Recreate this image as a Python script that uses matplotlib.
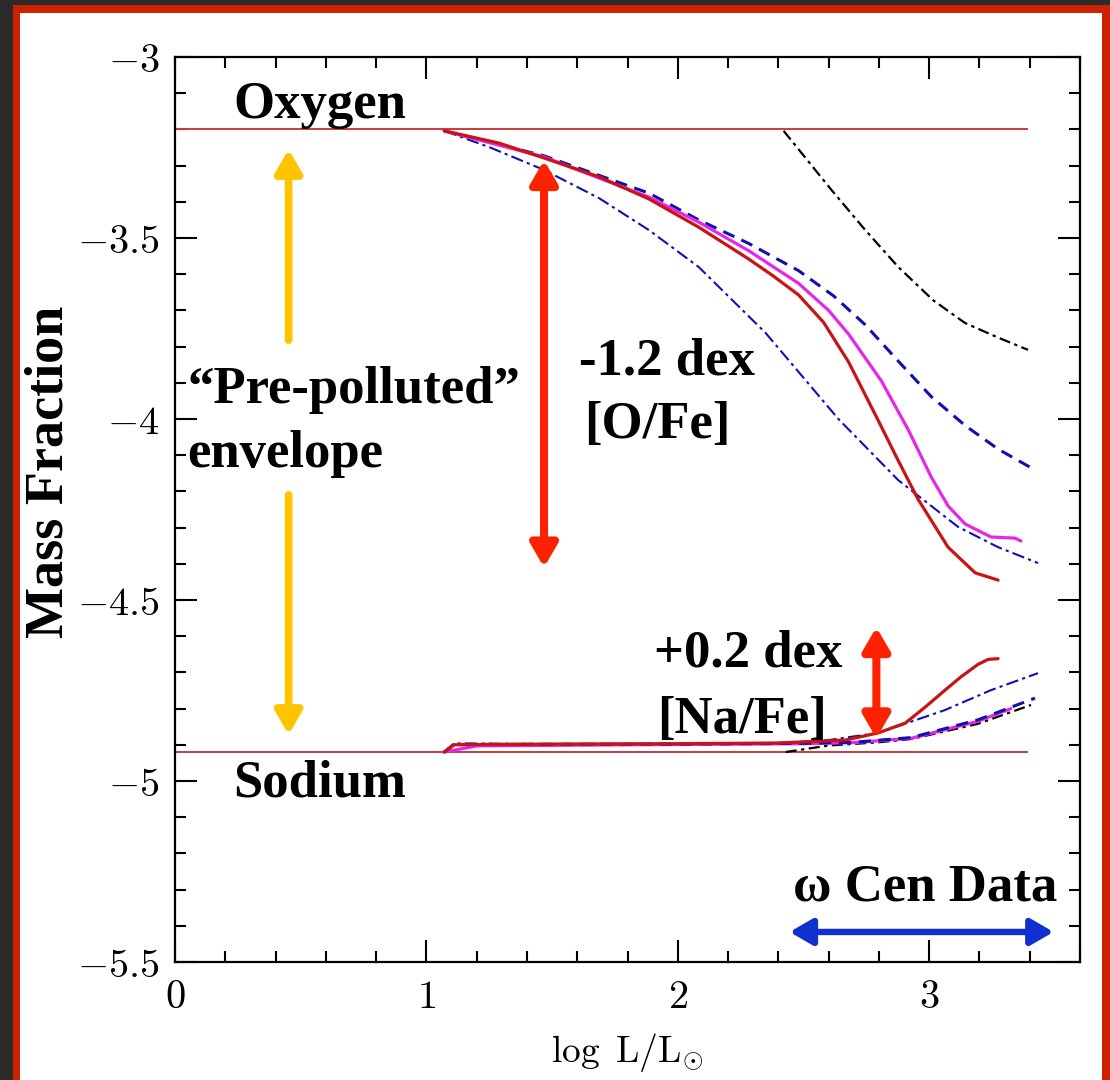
import matplotlib
matplotlib.use("Agg")
import matplotlib.pyplot as plt
from matplotlib.patches import Rectangle
from matplotlib.ticker import MultipleLocator, FuncFormatter

plt.rcParams['mathtext.fontset'] = 'cm'

# initial (pre-polluted) abundances
init_x = [0.0, 3.39]
oxygen_init = [-3.2, -3.2]
sodium_init = [-4.92, -4.92]

# oxygen tracks
o_red_x = [1.071, 1.290, 1.468, 1.687, 1.885, 2.083, 2.282, 2.380, 2.480, 2.580, 2.679, 2.798, 2.877, 2.956, 3.075, 3.183, 3.274]
o_red_y = [-3.204, -3.238, -3.279, -3.331, -3.392, -3.470, -3.558, -3.605, -3.657, -3.733, -3.842, -4.005, -4.115, -4.222, -4.354, -4.425, -4.445]
o_mag_x = [1.071, 1.468, 1.885, 2.083, 2.282, 2.480, 2.600, 2.679, 2.810, 2.917, 3.008, 3.075, 3.143, 3.246, 3.341, 3.365]
o_mag_y = [-3.204, -3.276, -3.387, -3.456, -3.535, -3.625, -3.700, -3.765, -3.895, -4.030, -4.160, -4.240, -4.290, -4.326, -4.329, -4.337]
o_bdash_x = [1.071, 1.468, 1.885, 2.083, 2.282, 2.480, 2.620, 2.746, 2.877, 3.008, 3.143, 3.274, 3.421]
o_bdash_y = [-3.204, -3.273, -3.376, -3.450, -3.515, -3.590, -3.660, -3.740, -3.840, -3.938, -4.018, -4.083, -4.141]
o_bdd_x = [1.071, 1.250, 1.468, 1.687, 1.885, 2.083, 2.349, 2.639, 2.877, 3.115, 3.274, 3.433]
o_bdd_y = [-3.204, -3.249, -3.312, -3.390, -3.478, -3.580, -3.762, -4.000, -4.169, -4.298, -4.354, -4.398]
o_blk_x = [2.421, 2.611, 2.742, 2.877, 3.016, 3.143, 3.274, 3.393]
o_blk_y = [-3.204, -3.367, -3.475, -3.580, -3.672, -3.735, -3.775, -3.809]

# sodium tracks
na_red_x = [1.071, 1.110, 1.500, 2.000, 2.401, 2.667, 2.798, 2.905, 2.984, 3.063, 3.127, 3.194, 3.235, 3.274]
na_red_y = [-4.920, -4.900, -4.898, -4.897, -4.895, -4.887, -4.867, -4.840, -4.796, -4.749, -4.712, -4.678, -4.664, -4.662]
na_bdd_x = [1.071, 1.110, 1.500, 2.000, 2.401, 2.600, 2.798, 3.063, 3.246, 3.433]
na_bdd_y = [-4.920, -4.896, -4.898, -4.897, -4.895, -4.887, -4.867, -4.804, -4.749, -4.702]
na_bdash_x = [1.071, 1.110, 2.000, 2.500, 2.700, 2.929, 3.194, 3.421]
na_bdash_y = [-4.920, -4.899, -4.898, -4.896, -4.893, -4.880, -4.831, -4.771]
na_mag_x = [1.071, 1.200, 2.000, 2.500, 2.700, 2.929, 3.194, 3.325]
na_mag_y = [-4.920, -4.903, -4.899, -4.897, -4.894, -4.882, -4.835, -4.800]
na_blk_x = [2.429, 2.600, 2.800, 2.929, 3.194, 3.405]
na_blk_y = [-4.920, -4.902, -4.893, -4.884, -4.842, -4.790]

W, H = 1110, 1080
fig = plt.figure(figsize=(W / 100, H / 100), dpi=100, facecolor='#2b2b2b')
# red frame with white card, behind the axes
fig.patches.append(Rectangle((13 / W, 0), (W - 13) / W, (H - 5) / H, zorder=-10,
                             transform=fig.transFigure, facecolor='#cc2200', edgecolor='none'))
fig.patches.append(Rectangle((20 / W, 0), (1102 - 20) / W, (H - 13) / H, zorder=-9,
                             transform=fig.transFigure, facecolor='white', edgecolor='none'))

ax = fig.add_axes([175 / W, 1 - 962 / H, (1080 - 175) / W, (962 - 57) / H])
ax.set_facecolor('white')
ax.set_xlim(0, 3.6)
ax.set_ylim(-5.5, -3)

red = '#c81414'
blue = '#1010b0'
mag = '#e628e6'
lk = dict(solid_joinstyle='round', solid_capstyle='round')

ax.plot(init_x, oxygen_init, color='#c83c3c', lw=1.4)
ax.plot(init_x, sodium_init, color='#c83c3c', lw=1.4)

ax.plot(o_blk_x, o_blk_y, color='black', lw=1.6, dashes=(5, 2, 1.5, 2))
ax.plot(o_bdash_x, o_bdash_y, color=blue, lw=2.2, dashes=(4, 2.5))
ax.plot(o_bdd_x, o_bdd_y, color=blue, lw=1.5, dashes=(6, 2, 1.5, 2))
ax.plot(o_mag_x, o_mag_y, color=mag, lw=2.3, **lk)
ax.plot(o_red_x, o_red_y, color=red, lw=2.3, **lk)

ax.plot(na_blk_x, na_blk_y, color='black', lw=1.6, dashes=(5, 2, 1.5, 2))
ax.plot(na_mag_x, na_mag_y, color=mag, lw=2.3, **lk)
ax.plot(na_bdash_x, na_bdash_y, color=blue, lw=2.2, dashes=(4, 2.5))
ax.plot(na_bdd_x, na_bdd_y, color=blue, lw=1.5, dashes=(6, 2, 1.5, 2))
ax.plot(na_red_x, na_red_y, color=red, lw=2.3, **lk)

# axes styling
ax.xaxis.set_major_locator(MultipleLocator(1))
ax.xaxis.set_minor_locator(MultipleLocator(0.2))
ax.yaxis.set_major_locator(MultipleLocator(0.5))
ax.yaxis.set_minor_locator(MultipleLocator(0.1))
ax.xaxis.set_major_formatter(FuncFormatter(lambda v, p: '$%g$' % v))
ax.yaxis.set_major_formatter(FuncFormatter(lambda v, p: '$-%g$' % abs(v)))
ax.tick_params(which='both', direction='in', top=True, right=True, width=1.5,
               labelsize=29, color='black')
ax.tick_params(which='major', length=16, pad=11)
ax.tick_params(which='minor', length=8)
for s in ax.spines.values():
    s.set_linewidth(1.6)

ax.set_xlabel(r'$\log\ \mathrm{L}/\mathrm{L}_{\odot}$', fontsize=27, labelpad=10)
fig.text(50 / W, 1 - 472 / H, 'Mass Fraction', rotation=90, ha='center', va='center',
         family='Liberation Serif', fontweight='bold', fontsize=39)

# annotation text
tkw = dict(family='Liberation Serif', fontweight='bold', fontsize=38, va='baseline')
ax.text(0.575, -3.168, 'Oxygen', ha='center', **tkw)
ax.text(0.575, -5.044, 'Sodium', ha='center', **tkw)
ax.text(0.048, -3.956, '\u201cPre-polluted\u201d', ha='left', **tkw)
ax.text(0.048, -4.133, 'envelope', ha='left', **tkw)
ax.text(1.607, -3.878, '-1.2 dex', ha='left', **tkw)
ax.text(1.627, -4.052, '[O/Fe]', ha='left', **tkw)
ax.text(1.905, -4.685, '+0.2 dex', ha='left', **tkw)
ax.text(1.917, -4.867, '[Na/Fe]', ha='left', **tkw)
ax.text(2.46, -5.329, '\u03c9 Cen Data', ha='left', **tkw)

# arrows
def arrow(x0, y0, x1, y1, color, style, lw):
    ax.annotate('', xy=(x1, y1), xytext=(x0, y0),
                arrowprops=dict(arrowstyle=style, color=color, lw=lw,
                                shrinkA=0, shrinkB=0, mutation_scale=22))

one = '-|>,head_width=0.36,head_length=0.62'
two = '<|-|>,head_width=0.36,head_length=0.62'
arrow(0.452, -3.782, 0.452, -3.255, '#ffc400', one, 5.6)
arrow(0.452, -4.21, 0.452, -4.872, '#ffc400', one, 5.6)
arrow(1.468, -4.41, 1.468, -3.285, '#ff2200', two, 5.8)
arrow(2.79, -4.882, 2.79, -4.575, '#ff2200', two, 5.8)
arrow(2.445, -5.417, 3.495, -5.417, '#1030d0', two, 4.6)

fig.savefig('out.png', dpi=100, facecolor=fig.get_facecolor())
